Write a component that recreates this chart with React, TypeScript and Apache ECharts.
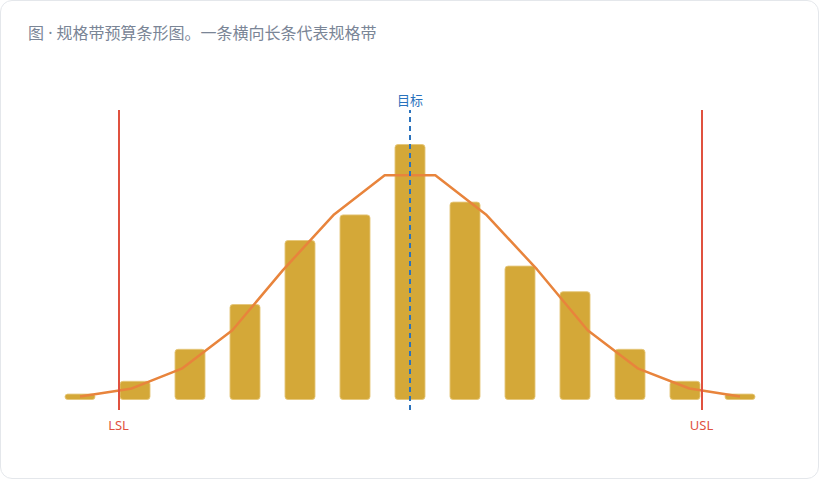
import React, { useEffect, useRef } from "react";
import * as echarts from "echarts";

// Histogram bins (bin centre) and counts
const binCenters = [9.4, 9.5, 9.6, 9.7, 9.8, 9.9, 10.0, 10.1, 10.2, 10.3, 10.4, 10.5, 10.6];
const counts = [1, 3, 8, 15, 25, 29, 40, 31, 21, 17, 8, 3, 1];

// Fitted distribution curve
const curveX = [9.4, 9.492, 9.585, 9.677, 9.769, 9.862, 9.954, 10.046, 10.138, 10.231, 10.323, 10.415, 10.508, 10.6];
const curveY = [0.55, 1.75, 4.9, 10.9, 20.3, 29.0, 35.1, 35.1, 29.0, 20.4, 10.9, 4.9, 1.8, 0.55];

// Specification limits
const LSL = 9.4727;
const USL = 10.5273;
const TARGET = 10.0;

const TITLE = "图 · 规格带预算条形图。一条横向长条代表规格带";

const FONT = "'Noto Sans', 'Noto Sans CJK SC', sans-serif";

export default function App() {
  const ref = useRef<HTMLDivElement>(null);

  useEffect(() => {
    if (!ref.current) return;
    const chart = echarts.init(ref.current, undefined, { renderer: "svg" });
    const barData = binCenters.map((x, i) => [x, counts[i]]);
    const curveData = curveX.map((x, i) => [x, curveY[i]]);

    chart.setOption({
      animation: false,
      title: {
        text: TITLE,
        left: 23,
        top: 20,
        textStyle: { fontSize: 16, fontWeight: "normal", color: "#7a8596", fontFamily: FONT },
      },
      grid: { left: 25, right: 25, top: 110, bottom: 70, containLabel: false },
      xAxis: {
        type: "value",
        min: 9.3,
        max: 10.7,
        show: false,
      },
      yAxis: {
        type: "value",
        min: -1.5625,
        max: 45.3125,
        show: false,
      },
      series: [
        {
          name: "target",
          type: "line",
          data: [],
          z: 1,
          markLine: {
            silent: true,
            symbol: "none",
            data: [
              {
                xAxis: TARGET,
                lineStyle: { color: "#2a72bd", width: 2, type: [5, 4] },
                label: { formatter: "目标", position: "end", distance: 4, color: "#2a72bd", fontSize: 13, fontFamily: FONT },
              },
            ],
          },
        },
        {
          name: "count",
          type: "bar",
          data: barData,
          barWidth: 31,
          z: 2,
          itemStyle: {
            color: "#cf9f22",
            opacity: 0.9,
            borderRadius: 3,
            borderColor: "#e6c77a",
            borderWidth: 1,
          },
        },
        {
          name: "curve",
          type: "line",
          data: curveData,
          z: 3,
          symbol: "none",
          smooth: false,
          lineStyle: { color: "#e8843c", width: 2.5 },
        },
        {
          name: "limits",
          type: "line",
          data: [],
          z: 4,
          markLine: {
            silent: true,
            symbol: "none",
            data: [
              {
                xAxis: LSL,
                lineStyle: { color: "#e0513f", width: 2, type: "solid" },
                label: { formatter: "LSL", position: "start", distance: 8, color: "#e0513f", fontSize: 13, fontFamily: FONT },
              },
              {
                xAxis: USL,
                lineStyle: { color: "#e0513f", width: 2, type: "solid" },
                label: { formatter: "USL", position: "start", distance: 8, color: "#e0513f", fontSize: 13, fontFamily: FONT },
              },
            ],
          },
        },
      ],
    });
    return () => chart.dispose();
  }, []);

  return (
    <div
      style={{
        position: "fixed",
        left: 0,
        top: 0,
        width: 819,
        height: 479,
        boxSizing: "border-box",
        border: "1px solid #e4e7eb",
        borderRadius: 12,
        background: "#fff",
      }}
    >
      <div ref={ref} style={{ position: "absolute", left: -1, top: -1, width: 820, height: 480 }} />
    </div>
  );
}
